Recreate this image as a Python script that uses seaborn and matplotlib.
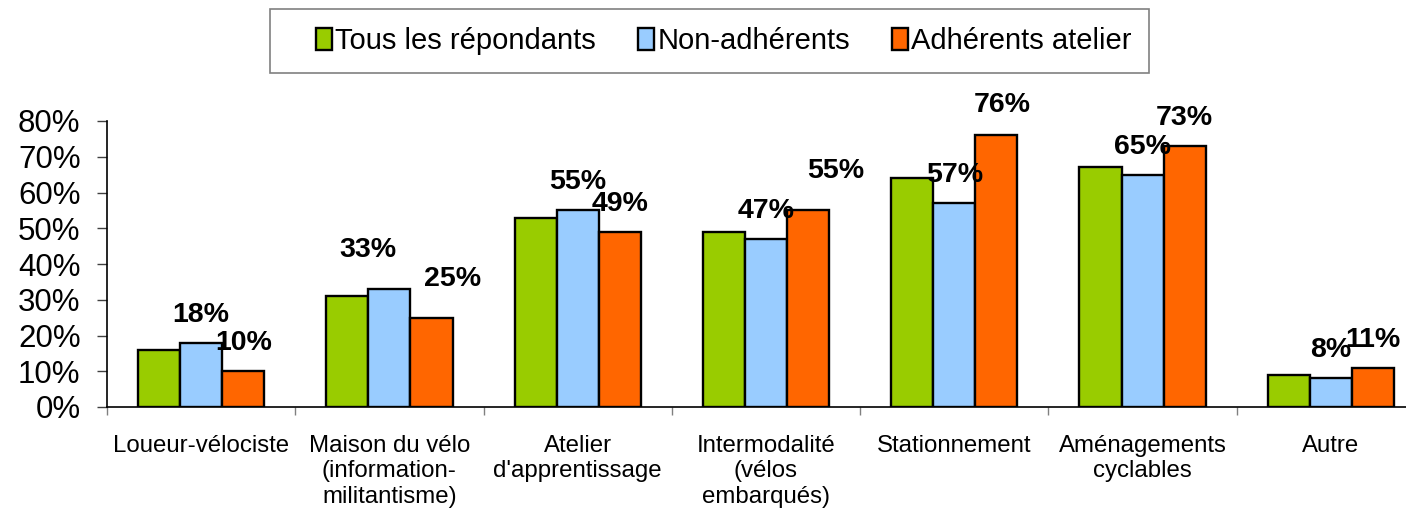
import matplotlib

matplotlib.use("Agg")
import matplotlib.pyplot as plt
import pandas as pd
import seaborn as sns
from matplotlib.patches import Patch, Rectangle
from matplotlib.ticker import FixedLocator, PercentFormatter

categories = [
    "Loueur-vélociste",
    "Maison du vélo\n(information-\nmilitantisme)",
    "Atelier\nd'apprentissage",
    "Intermodalité\n(vélos\nembarqués)",
    "Stationnement",
    "Aménagements\ncyclables",
    "Autre",
]
series_names = ["Tous les répondants", "Non-adhérents", "Adhérents atelier"]
tous = [16, 31, 53, 49, 64, 67, 9]
non_adherents = [18, 33, 55, 47, 57, 65, 8]
adherents = [10, 25, 49, 55, 76, 73, 11]
colors = ["#99CC00", "#99CCFF", "#FF6600"]

# label nudges in pixels (dx right, dy up from bar top), only for labelled series
label_shift = {
    ("Non-adhérents", 1): (-22, 39),
    ("Adhérents atelier", 1): (21, 39),
    ("Adhérents atelier", 3): (28, 39),
    ("Adhérents atelier", 4): (6, 30),
}
default_shift = (0, 28)

frame = pd.DataFrame(
    {
        "category": categories * 3,
        "series": [name for name in series_names for _ in categories],
        "value": tous + non_adherents + adherents,
    }
)

sns.set_theme(style="white")
plt.rcParams["font.family"] = ["Liberation Sans", "DejaVu Sans"]
plt.rcParams["text.color"] = "black"
plt.rcParams["xtick.labelcolor"] = "black"
plt.rcParams["ytick.labelcolor"] = "black"

W, H = 1406, 512
fig = plt.figure(figsize=(W / 100, H / 100), dpi=100)
ax = fig.add_axes([107 / W, (H - 407) / H, 1318 / W, (407 - 121) / H])

sns.barplot(
    data=frame,
    x="category",
    y="value",
    hue="series",
    order=categories,
    hue_order=series_names,
    palette=colors,
    width=0.67,
    gap=0,
    saturation=1,
    edgecolor="black",
    linewidth=1.7,
    legend=False,
    ax=ax,
)

ax.set_xlim(-0.5, len(categories) - 0.5)
ax.set_ylim(0, 80)
ax.set_xlabel("")
ax.set_ylabel("")
ax.yaxis.set_major_locator(FixedLocator(range(0, 81, 10)))
ax.yaxis.set_major_formatter(PercentFormatter(decimals=0))
ax.tick_params(axis="y", labelsize=22.5, length=7, width=1, color="#404040",
               direction="out", left=True, pad=12)
ax.set_xticks(range(len(categories)))
ax.set_xticklabels(categories, fontsize=17.3, linespacing=1.2)
ax.xaxis.set_minor_locator(FixedLocator([i - 0.5 for i in range(len(categories) + 1)]))
ax.tick_params(axis="x", which="major", length=0, pad=20)
ax.tick_params(axis="x", which="minor", length=6, width=1, color="#808080",
               direction="out", bottom=True)
for side in ["top", "right"]:
    ax.spines[side].set_visible(False)
for side in ["left", "bottom"]:
    ax.spines[side].set_color("black")
    ax.spines[side].set_linewidth(1.2)

px = 72 / 100
for name, container in zip(series_names, ax.containers):
    if name == series_names[0]:
        continue
    for idx, bar in enumerate(container):
        dx, dy = label_shift.get((name, idx), default_shift)
        ax.annotate(
            f"{bar.get_height():.0f}%",
            xy=(bar.get_x() + bar.get_width() / 2, bar.get_height()),
            xytext=(dx * px, dy * px),
            textcoords="offset points",
            ha="center",
            va="center",
            fontsize=20.5,
            fontweight="bold",
            color="black",
            annotation_clip=False,
        )

# legend frame is offset from its content like the original Excel box
fig.patches.append(
    Rectangle((270 / W, (H - 73) / H), 879 / W, 64 / H, transform=fig.transFigure,
              facecolor="white", edgecolor="#808080", linewidth=1.2, zorder=0)
)
handles = [Patch(facecolor=c, edgecolor="black", linewidth=1.7) for c in colors]
fig.legend(
    handles,
    series_names,
    loc="center",
    bbox_to_anchor=(724 / W, (H - 41) / H),
    ncol=3,
    fontsize=21,
    frameon=False,
    handlelength=0.55,
    handleheight=0.75,
    handletextpad=0.1,
    columnspacing=1.45,
    borderpad=0.3,
)

fig.savefig("out.png", dpi=100)
